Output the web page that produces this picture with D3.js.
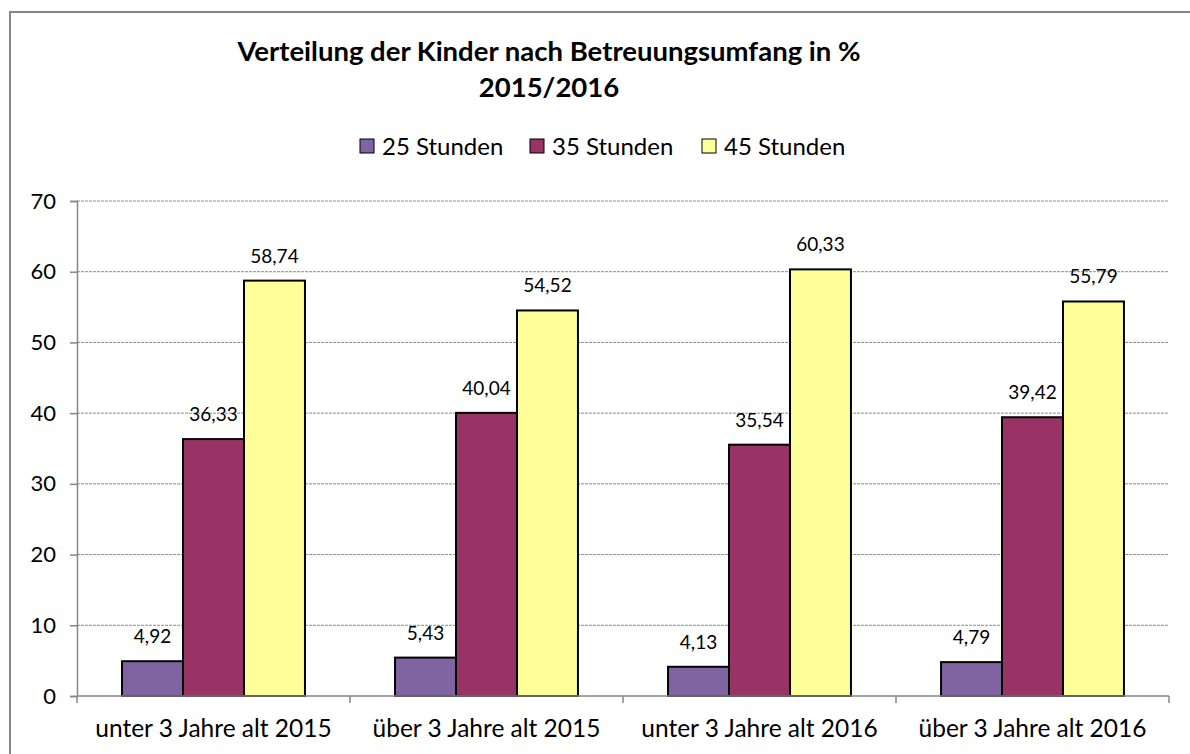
<!DOCTYPE html>
<html>
<head>
<meta charset="UTF-8">
<script src="https://d3js.org/d3.v7.min.js"></script>
<style>
  body { margin: 0; background: #fff; }
  text { font-family: Lato, "Open Sans", sans-serif; }
</style>
</head>
<body>
<svg id="canvas"></svg>
<script>
width = 1190;
height = 754;

categories = ["unter 3 Jahre alt 2015", "über 3 Jahre alt 2015", "unter 3 Jahre alt 2016", "über 3 Jahre alt 2016"];
seriesNames = ["25 Stunden", "35 Stunden", "45 Stunden"];
colors = ["#8064A2", "#993366", "#FFFF99"];
values25 = [4.92, 5.43, 4.13, 4.79];
values35 = [36.33, 40.04, 35.54, 39.42];
values45 = [58.74, 54.52, 60.33, 55.79];
yTicks = [0, 10, 20, 30, 40, 50, 60, 70];

series = [values25, values35, values45];

margin = {left: 77, right: 21, top: 201, bottom: 58};

svg = d3.select("#canvas").attr("width", width).attr("height", height);

svg.append("rect")
    .attr("x", 10).attr("y", 12)
    .attr("width", width + 10).attr("height", height + 10)
    .attr("fill", "none").attr("stroke", "#868686").attr("stroke-width", 2);

x0 = d3.scaleBand().domain(categories)
    .range([margin.left, width - margin.right])
    .paddingInner(0.33).paddingOuter(0.165);
x1 = d3.scaleBand().domain(d3.range(3)).range([0, x0.bandwidth()]);
y = d3.scaleLinear().domain([0, 70]).range([height - margin.bottom, margin.top]);

// gridlines
svg.append("g").selectAll("line").data(yTicks.slice(1)).enter().append("line")
    .attr("x1", margin.left).attr("x2", width - margin.right)
    .attr("y1", d => y(d)).attr("y2", d => y(d))
    .attr("stroke", "#8c8c8c").attr("stroke-width", 1).attr("stroke-dasharray", "3,1");

// y axis
yAxis = svg.append("g").attr("transform", "translate(" + margin.left + ",0)")
    .call(d3.axisLeft(y).tickValues(yTicks).tickSize(7).tickPadding(14));
yAxis.select(".domain").attr("stroke", "#868686").attr("stroke-width", 1.5);
yAxis.selectAll(".tick line").attr("stroke", "#868686").attr("stroke-width", 1.5);
yAxis.selectAll("text").attr("font-size", 22).attr("fill", "#000");

// bars
groups = svg.append("g").selectAll("g").data(categories).enter().append("g")
    .attr("transform", d => "translate(" + x0(d) + ",0)");

groups.selectAll("rect").data((d, i) => series.map((s, j) => ({j: j, v: s[i]})))
    .enter().append("rect")
    .attr("x", d => x1(d.j))
    .attr("y", d => y(d.v))
    .attr("width", x1.bandwidth())
    .attr("height", d => y(0) - y(d.v))
    .attr("fill", d => colors[d.j])
    .attr("stroke", "#000").attr("stroke-width", 2);

groups.selectAll("text.lbl").data((d, i) => series.map((s, j) => ({j: j, v: s[i]})))
    .enter().append("text")
    .attr("class", "lbl")
    .attr("x", d => x1(d.j) + x1.bandwidth() / 2)
    .attr("y", d => y(d.v) - 18)
    .attr("text-anchor", "middle")
    .attr("font-size", 19)
    .text(d => d.v.toFixed(2).replace(".", ","));

// x axis
xAxisLine = svg.append("g");
xAxisLine.append("line")
    .attr("x1", margin.left).attr("x2", width - margin.right)
    .attr("y1", y(0)).attr("y2", y(0))
    .attr("stroke", "#868686").attr("stroke-width", 1.5);
bounds = categories.map(c => x0(c) - x0.step() * x0.paddingInner() / 2);
bounds.push(width - margin.right);
bounds[0] = margin.left;
xAxisLine.selectAll("line.tk").data(bounds).enter().append("line")
    .attr("class", "tk")
    .attr("x1", d => d).attr("x2", d => d)
    .attr("y1", y(0)).attr("y2", y(0) + 7)
    .attr("stroke", "#868686").attr("stroke-width", 1.5);
xAxisLine.selectAll("text").data(categories).enter().append("text")
    .attr("x", d => x0(d) + x0.bandwidth() / 2)
    .attr("y", y(0) + 41)
    .attr("text-anchor", "middle")
    .attr("font-size", 24.5)
    .text(d => d);

// title
svg.append("text").attr("x", 549).attr("y", 61).attr("text-anchor", "middle")
    .attr("font-size", 27.5).attr("font-weight", "bold").text("Verteilung der Kinder nach Betreuungsumfang in %");
svg.append("text").attr("x", 549).attr("y", 97).attr("text-anchor", "middle")
    .attr("font-size", 27.5).attr("font-weight", "bold").text("2015/2016");

// legend
legendX = [360, 530, 702];
legend = svg.append("g").selectAll("g").data(seriesNames).enter().append("g")
    .attr("transform", (d, i) => "translate(" + legendX[i] + ",139)");
legend.append("rect").attr("width", 14).attr("height", 14)
    .attr("fill", (d, i) => colors[i]).attr("stroke", "#000").attr("stroke-width", 1);
legend.append("text").attr("x", 22).attr("y", 16).attr("font-size", 24).text(d => d);
</script>
</body>
</html>
